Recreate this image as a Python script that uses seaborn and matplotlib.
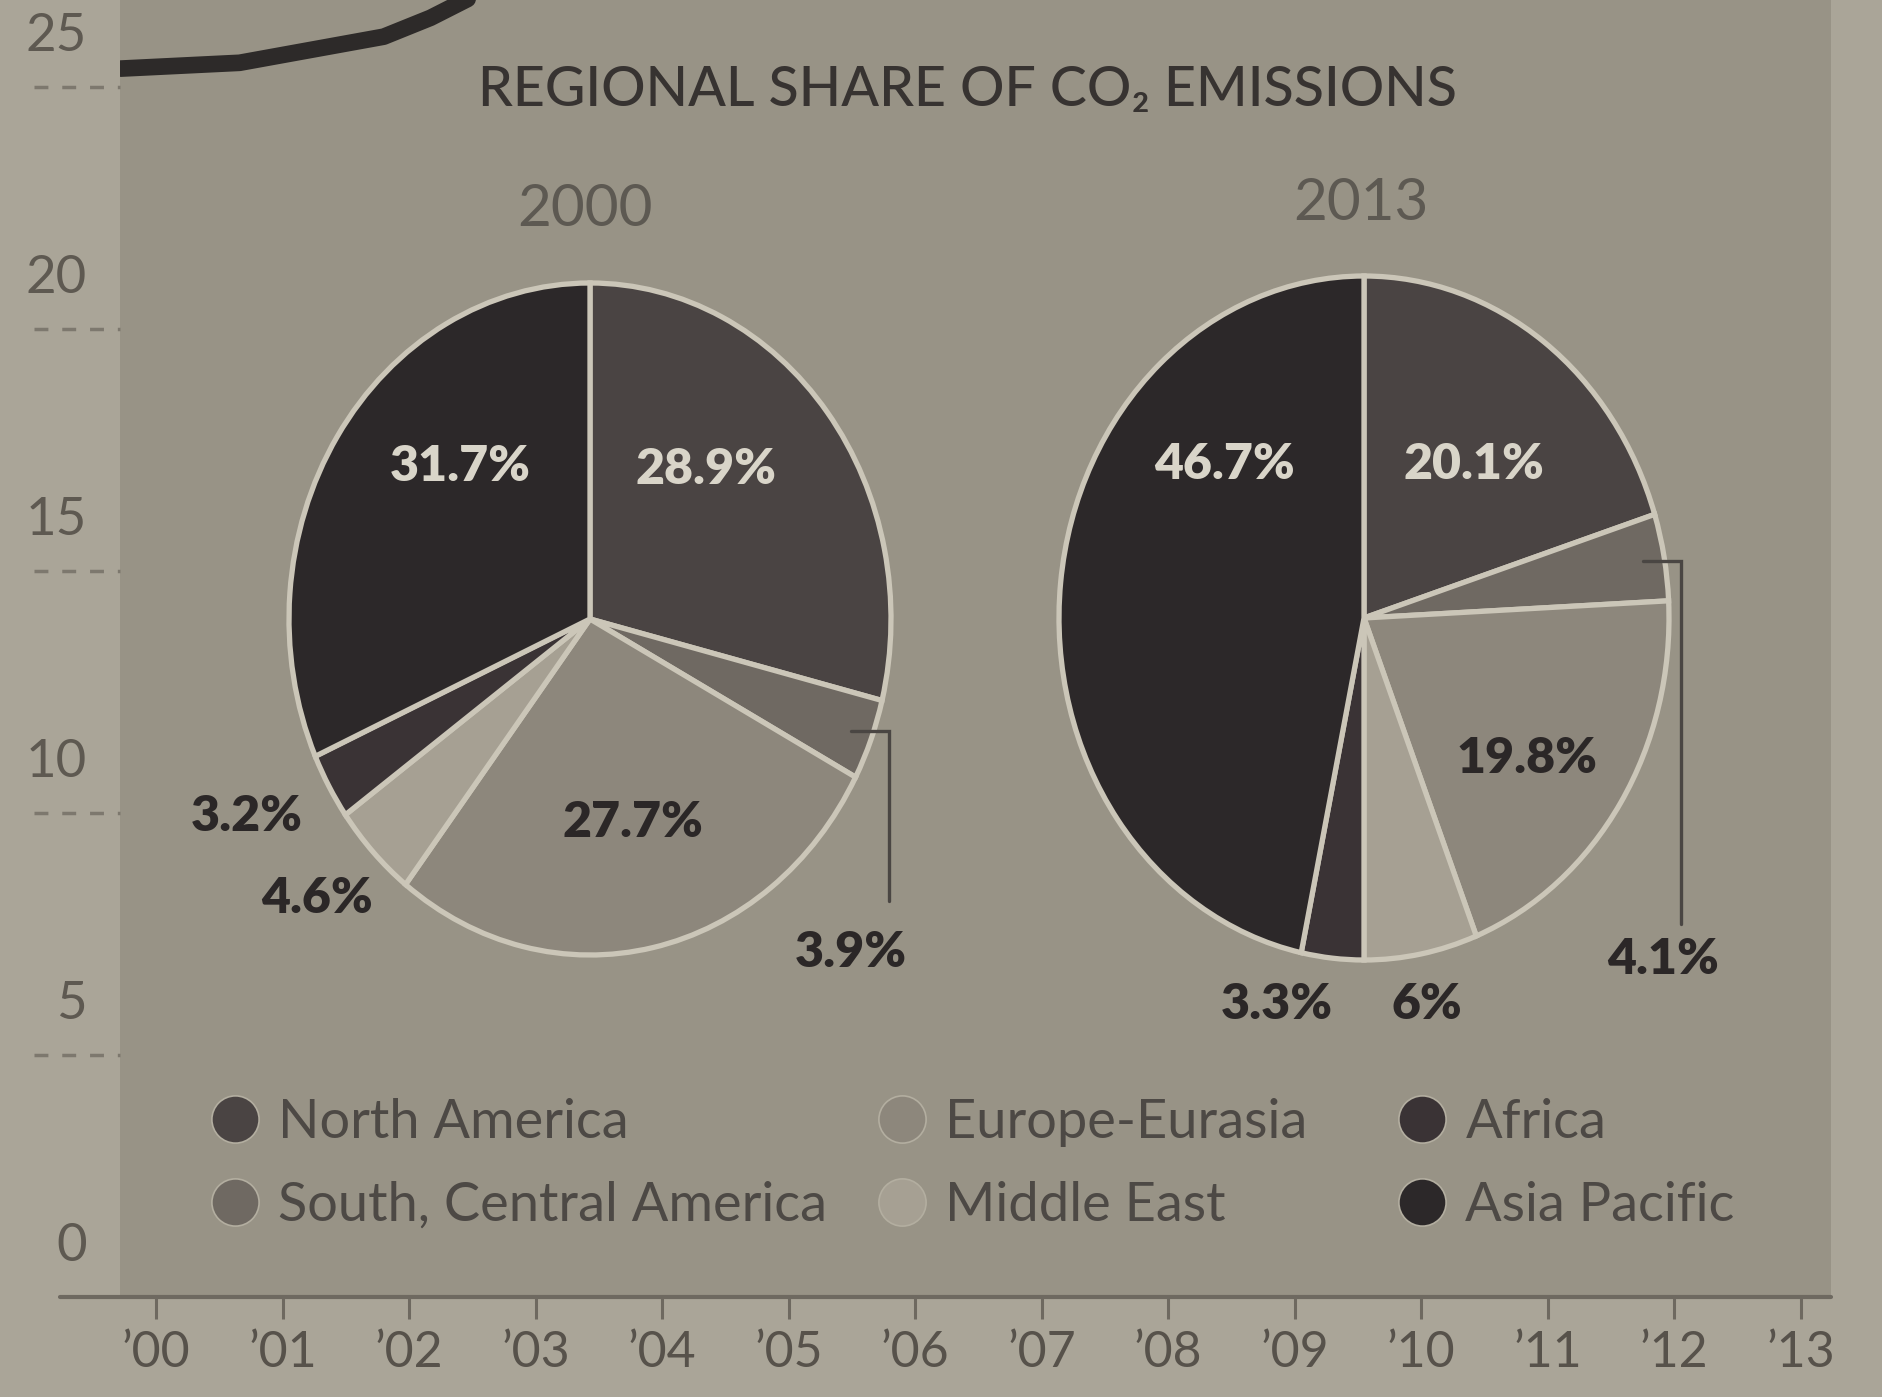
import matplotlib
matplotlib.use("Agg")
import matplotlib.pyplot as plt
import matplotlib.transforms as mtransforms
from matplotlib.lines import Line2D
import numpy as np
import seaborn as sns

# ---------------------------------------------------------------- data
regions = ["North America", "South, Central America", "Europe-Eurasia",
           "Middle East", "Africa", "Asia Pacific"]
share_2000 = [28.9, 3.9, 27.7, 4.6, 3.2, 31.7]
share_2013 = [20.1, 4.1, 19.8, 6.0, 3.3, 46.7]
region_colors = ["#4a4443", "#6f6962", "#8d877c", "#a6a093", "#3a3335", "#2c2829"]

year_ticks = list(range(0, 14))
year_labels = ["\u2019%02d" % y for y in year_ticks]
value_ticks = [0, 5, 10, 15, 20, 25]

# tail of the emissions line that runs above the pie panel
trend_years = [-0.28, 0.66, 1.8, 2.17, 2.6]
trend_values = [25.38, 25.5, 26.04, 26.43, 27.0]

# ---------------------------------------------------------------- style
W, H = 1883, 1397
PAPER = "#aaa598"
PANEL = "#989386"
EDGE = "#cbc6b8"
INK = "#373331"
LIGHT_TXT = "#d9d5c9"

sns.set_theme(style="white")
plt.rcParams["font.family"] = ["Lato", "DejaVu Sans"]

fig = plt.figure(figsize=(W / 100, H / 100), dpi=100, facecolor=PAPER)

# ------------------------------------------------ background line chart
px_per_unit = 48.4
ax = fig.add_axes([120 / W, 100 / H, (1831 - 120) / W, 1297 / H])
ax.set_facecolor(PANEL)
ax.set_xlim(-0.285, 13.24)
ax.set_ylim(0, 1297 / px_per_unit)
for s in ax.spines.values():
    s.set_visible(False)

sns.lineplot(x=trend_years, y=trend_values, ax=ax, color="#2d2a29",
             linewidth=12, solid_capstyle="round", sort=True)

ax.set_xticks(year_ticks, year_labels)
ax.tick_params(axis="x", length=16, width=2.2, color="#6e6960", pad=8,
               labelsize=36, labelcolor="#57524b", bottom=True)
ax.set_yticks(value_ticks, [str(v) for v in value_ticks])
ax.tick_params(axis="y", length=0, pad=24, labelsize=38, labelcolor="#5e5951", left=True)
lift = mtransforms.ScaledTranslation(0, 0.55, fig.dpi_scale_trans)
for lab in ax.get_yticklabels():
    lab.set_transform(lab.get_transform() + lift)

ax.axhline(0, xmin=-0.035, xmax=1.0, color="#6e6960", lw=3, clip_on=False)
ax.hlines(value_ticks[1:], -0.05, 0.0, transform=ax.get_yaxis_transform(),
          colors="#7d786e", linewidth=2.5, linestyles=(0, (4, 4)), clip_on=False)

# ---------------------------------------------------------------- titles
fig.text(967 / W, 1 - 90 / H, "REGIONAL SHARE OF CO\u2082 EMISSIONS",
         ha="center", va="center", fontsize=40, fontweight="medium", color=INK)
fig.text(585 / W, 1 - 210 / H, "2000", ha="center", va="center",
         fontsize=42, color="#5d5952")
fig.text(1361 / W, 1 - 204 / H, "2013", ha="center", va="center",
         fontsize=42, color="#5d5952")

# ---------------------------------------------------------------- pies
label_pos_2000 = [(0.386, 0.446), (0.865, -0.993), (0.143, -0.607),
                  (-0.908, -0.832), (-1.139, -0.589), (-0.43, 0.454)]
label_pos_2013 = [(0.362, 0.449), (0.98, -1.0), (0.535, -0.41),
                  (0.205, -1.13), (-0.287, -1.13), (-0.457, 0.449)]
label_light = [True, False, False, False, False, True]


def draw_pie(cx, cy, rx, ry, shares, label_pos, leader_x, leader_y):
    m = 1.15
    pax = fig.add_axes([(cx - m * rx) / W, (H - cy - m * ry) / H,
                        2 * m * rx / W, 2 * m * ry / H])
    wedges, _ = pax.pie(shares, colors=region_colors, startangle=90,
                        counterclock=False,
                        wedgeprops=dict(edgecolor=EDGE, linewidth=3.8))
    pax.set_aspect("auto")
    pax.set_xlim(-m, m)
    pax.set_ylim(-m, m)
    pax.axis("off")
    for val, (lx, ly), light in zip(shares, label_pos, label_light):
        pax.text(lx, ly, f"{val:g}%", ha="center", va="center",
                 fontsize=36, fontweight="heavy",
                 color=LIGHT_TXT if light else "#2b2727")
    # leader for the thin South/Central America slice
    w = wedges[1]
    mid = np.deg2rad((w.theta1 + w.theta2) / 2)
    sx, sy = 0.93 * np.cos(mid), 0.93 * np.sin(mid)
    pax.plot([sx, leader_x, leader_x], [sy, sy, leader_y], color="#4a4643",
             lw=2.4, clip_on=False, solid_joinstyle="miter")
    return pax


draw_pie(590, 619, 301, 336, share_2000, label_pos_2000, 0.992, -0.839)
draw_pie(1364, 618, 305, 342, share_2013, label_pos_2013, 1.039, -0.895)

# ---------------------------------------------------------------- legend
# one two-row legend block per column, anchored at its marker column
column_marker_x = [234, 901, 1421]
for col, mx in enumerate(column_marker_x):
    idx = [2 * col, 2 * col + 1]
    handles = [Line2D([], [], marker="o", linestyle="", markersize=34,
                      markerfacecolor=region_colors[i], markeredgecolor="#b3aea0",
                      markeredgewidth=1.2) for i in idx]
    fig.legend(handles, [regions[i] for i in idx], ncols=1, loc="center left",
               bbox_to_anchor=((mx - 26) / W, 1 - 1164 / H), frameon=False,
               fontsize=39, handlelength=1.0, handletextpad=0.3,
               labelspacing=0.62, borderpad=0, borderaxespad=0,
               labelcolor="#4d4945")

fig.savefig("out.png", dpi=100, facecolor=PAPER)
